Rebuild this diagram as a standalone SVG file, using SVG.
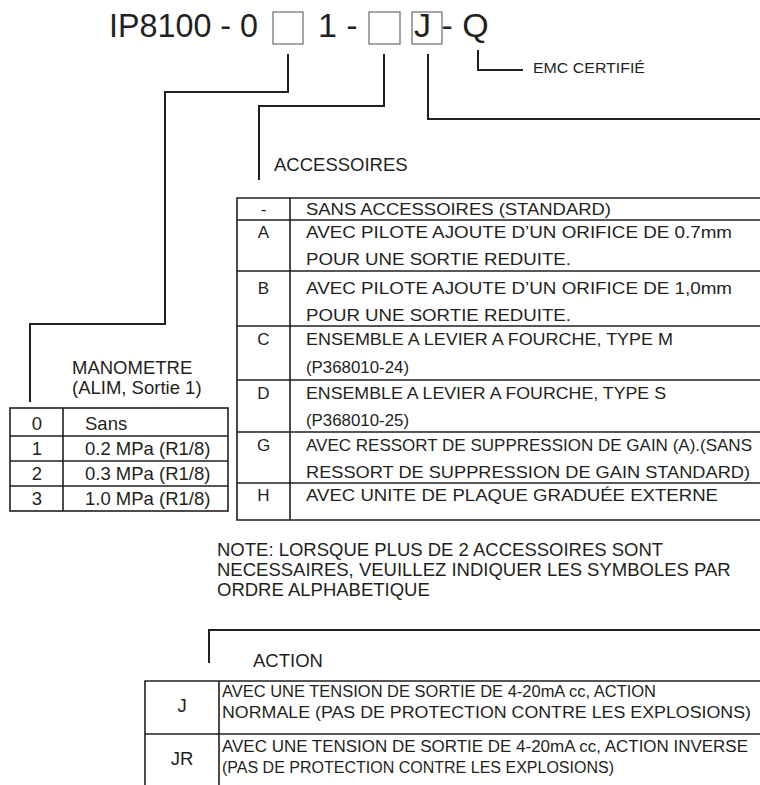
<svg xmlns="http://www.w3.org/2000/svg" width="760" height="785" viewBox="0 0 760 785">
<style>
text { font-family: "Liberation Sans", Arial, Helvetica, sans-serif; fill: #231f20; font-size: 18.5px; }
.ttl { font-size: 34px; }
.c { text-anchor: middle; }
.r { font-size: 17px; }
.a { font-size: 16.8px; }
.ln { fill: none; stroke: #231f20; stroke-width: 2; }
.tb { fill: none; stroke: #231f20; stroke-width: 1.6; }
.bx { fill: none; stroke: #6a6a6a; stroke-width: 1.2; }
</style>
<rect width="760" height="785" fill="#ffffff"/>

<g id="title">
  <text class="ttl" x="109" y="37" textLength="149" lengthAdjust="spacingAndGlyphs">IP8100 - 0</text>
  <rect class="bx" x="273" y="12" width="30" height="32"/>
  <text class="ttl" x="318" y="37">1 -</text>
  <rect class="bx" x="369" y="12" width="31" height="32"/>
  <rect class="bx" x="412" y="12" width="30" height="32"/>
  <text class="ttl" x="414" y="37">J</text>
  <text class="ttl" x="441.5" y="37">- Q</text>
</g>

<g id="connectors">
  <path class="ln" d="M288,54 V92 H165 V324 H30 V402"/>
  <path class="ln" d="M384,54 V106 H259 V180"/>
  <path class="ln" d="M428,54 V119 H760"/>
  <path class="ln" d="M478,50 V70 H523"/>
  <path class="ln" d="M760,630 H209 V663"/>
</g>

<g id="emc">
  <text x="533" y="73" style="font-size:15px" textLength="112" lengthAdjust="spacingAndGlyphs">EMC CERTIFIÉ</text>
</g>

<g id="manometre">
  <text x="72" y="374">MANOMETRE</text>
  <text x="72" y="394">(ALIM, Sortie 1)</text>
  <rect class="tb" x="10" y="408" width="218" height="103"/>
  <path class="tb" d="M63,408 V511 M10,436 H228 M10,461 H228 M10,486 H228"/>
  <text class="c" x="37" y="430">0</text>
  <text x="85" y="430">Sans</text>
  <text class="c" x="37" y="455">1</text>
  <text x="85" y="455">0.2 MPa (R1/8)</text>
  <text class="c" x="37" y="480">2</text>
  <text x="85" y="480">0.3 MPa (R1/8)</text>
  <text class="c" x="37" y="505">3</text>
  <text x="85" y="505">1.0 MPa (R1/8)</text>
</g>

<g id="accessoires">
  <text x="274" y="171">ACCESSOIRES</text>
  <path class="tb" d="M760,198 H237 V520 H760 M290,198 V520 M237,220 H760 M237,271 H760 M237,326 H760 M237,380 H760 M237,432 H760 M237,483 H760"/>
  <text class="r c" x="263.5" y="215">-</text>
  <text class="r" x="306" y="215" textLength="305" lengthAdjust="spacingAndGlyphs">SANS ACCESSOIRES (STANDARD)</text>
  <text class="r c" x="263.5" y="238">A</text>
  <text class="r" x="306" y="238" textLength="426" lengthAdjust="spacingAndGlyphs">AVEC PILOTE AJOUTE D’UN ORIFICE DE 0.7mm</text>
  <text class="r" x="306" y="265" textLength="265" lengthAdjust="spacingAndGlyphs">POUR UNE SORTIE REDUITE.</text>
  <text class="r c" x="263.5" y="294">B</text>
  <text class="r" x="306" y="294" textLength="426" lengthAdjust="spacingAndGlyphs">AVEC PILOTE AJOUTE D’UN ORIFICE DE 1,0mm</text>
  <text class="r" x="306" y="321" textLength="265" lengthAdjust="spacingAndGlyphs">POUR UNE SORTIE REDUITE.</text>
  <text class="r c" x="263.5" y="345">C</text>
  <text class="r" x="306" y="345" textLength="367" lengthAdjust="spacingAndGlyphs">ENSEMBLE A LEVIER A FOURCHE, TYPE M</text>
  <text class="r" x="306" y="373" textLength="103" lengthAdjust="spacingAndGlyphs">(P368010-24)</text>
  <text class="r c" x="263.5" y="399">D</text>
  <text class="r" x="306" y="399" textLength="360" lengthAdjust="spacingAndGlyphs">ENSEMBLE A LEVIER A FOURCHE, TYPE S</text>
  <text class="r" x="306" y="426" textLength="103" lengthAdjust="spacingAndGlyphs">(P368010-25)</text>
  <text class="r c" x="263.5" y="451">G</text>
  <text class="r" x="306" y="451" textLength="446" lengthAdjust="spacingAndGlyphs">AVEC RESSORT DE SUPPRESSION DE GAIN (A).(SANS</text>
  <text class="r" x="306" y="478" textLength="444" lengthAdjust="spacingAndGlyphs">RESSORT DE SUPPRESSION DE GAIN STANDARD)</text>
  <text class="r c" x="263.5" y="501">H</text>
  <text class="r" x="306" y="501" textLength="412" lengthAdjust="spacingAndGlyphs">AVEC UNITE DE PLAQUE GRADUÉE EXTERNE</text>
</g>

<g id="note">
  <text x="217" y="556">NOTE: LORSQUE PLUS DE 2 ACCESSOIRES SONT</text>
  <text x="217" y="576">NECESSAIRES, VEUILLEZ INDIQUER LES SYMBOLES PAR</text>
  <text x="217" y="596">ORDRE ALPHABETIQUE</text>
</g>

<g id="action">
  <text x="253" y="667">ACTION</text>
  <path class="tb" d="M760,681 H145 V785 M219,681 V785 M145,734 H760"/>
  <text class="c" x="182" y="712">J</text>
  <text class="a" x="222" y="697" textLength="434" lengthAdjust="spacingAndGlyphs">AVEC UNE TENSION DE SORTIE DE 4-20mA cc, ACTION</text>
  <text class="a" x="222" y="718" textLength="529" lengthAdjust="spacingAndGlyphs">NORMALE (PAS DE PROTECTION CONTRE LES EXPLOSIONS)</text>
  <text class="c" x="182" y="765">JR</text>
  <text class="a" x="222" y="752" textLength="526" lengthAdjust="spacingAndGlyphs">AVEC UNE TENSION DE SORTIE DE 4-20mA cc, ACTION INVERSE</text>
  <text class="a" x="222" y="773" textLength="392" lengthAdjust="spacingAndGlyphs">(PAS DE PROTECTION CONTRE LES EXPLOSIONS)</text>
</g>
</svg>
